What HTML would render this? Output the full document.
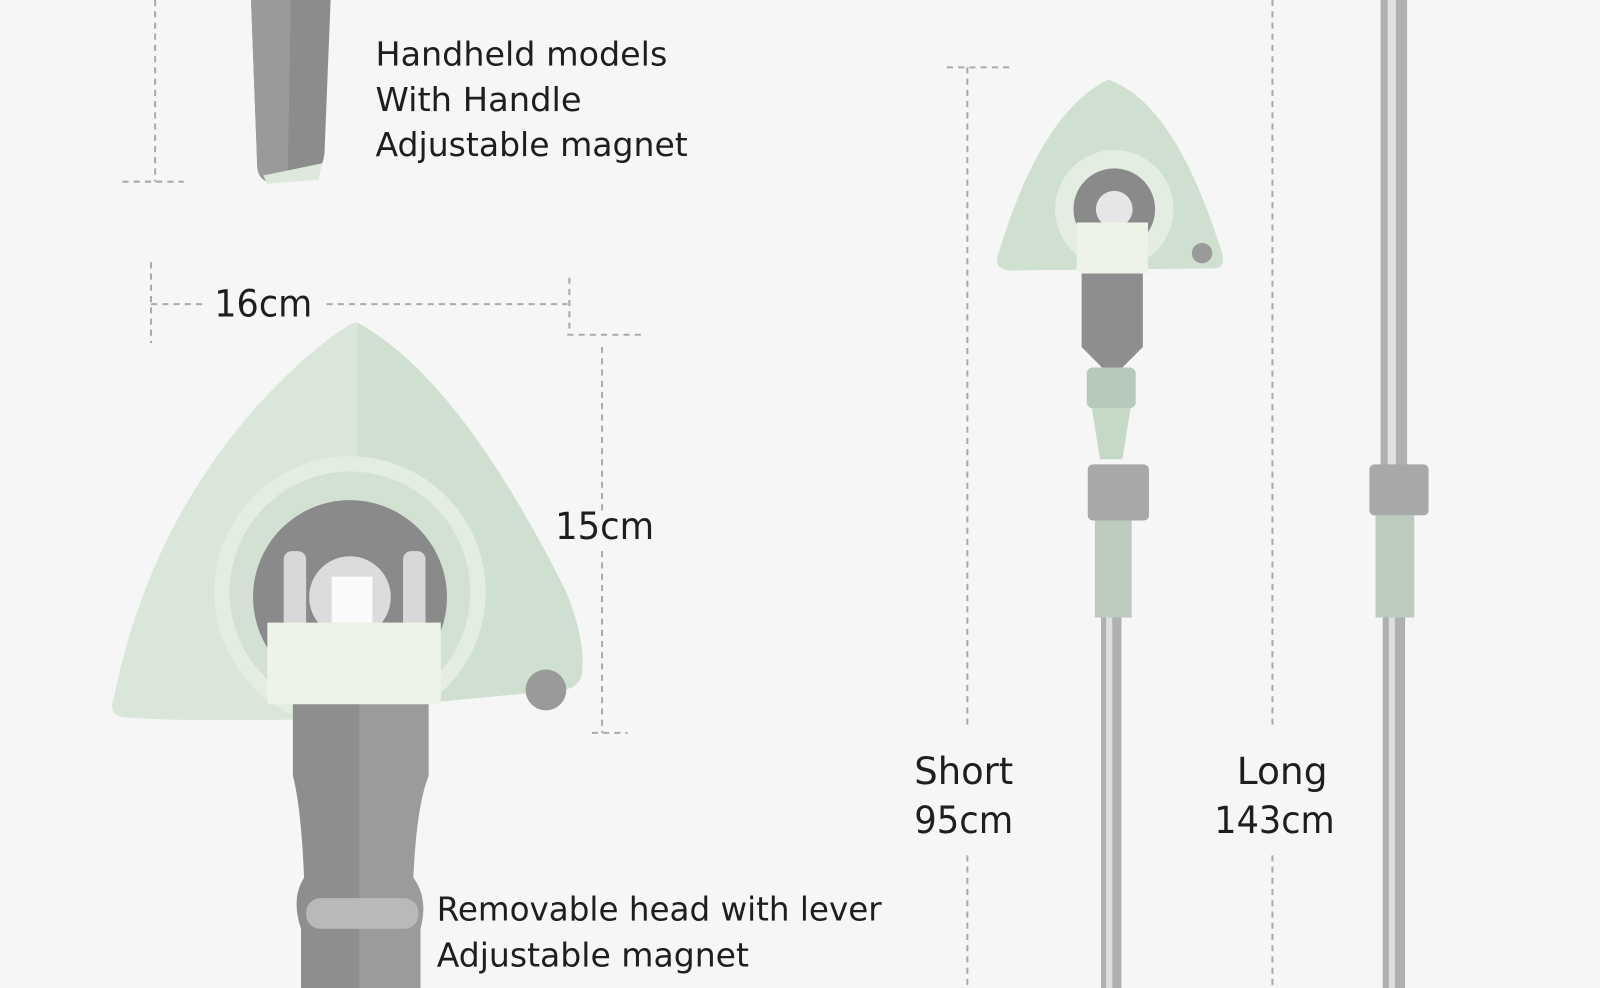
<!DOCTYPE html>
<html><head><meta charset="utf-8"><style>
html,body{margin:0;padding:0;background:#f6f6f6;}
svg{display:block;}
text{font-family:"DejaVu Sans","Liberation Sans",sans-serif;fill:#1e1e1e;}
</style></head><body>
<svg width="1600" height="988" viewBox="0 0 1568 968" preserveAspectRatio="none" xmlns="http://www.w3.org/2000/svg">
<rect width="1568" height="968" fill="#f6f6f6"/>
<g stroke="#aaa" stroke-width="2" stroke-dasharray="6,5" fill="none">
<path d="M152 0V178M120 178H180"/>
<path d="M148 257V336M148 298H200M320 298H556M558 272V328M556 328H632M590 340V500M590 540V718M580 718H615"/>
<path d="M928 66H994M948 66V710M948 838V968"/>
<path d="M1247 0V710M1247 838V968"/>
</g>
<!-- top handle -->
<path d="M246 0H324L318 150Q316 170 300 175L262 178Q252 175 252 160Z" fill="#8c8c8c"/>
<path d="M246 0H285L282 170L262 178Q252 175 252 160Z" fill="#9a9a9a"/>
<path d="M258 172L316 160L312 176L262 180Z" fill="#dfe8dc"/>
<!-- big head -->
<path d="M350 316Q450 370 555 580Q575 630 570 662Q566 675 550 676L300 700Q160 708 118 702Q106 698 112 682Q145 520 250 400Q300 345 340 320Q345 316 350 316Z" fill="#cfdfd0"/>
<path d="M350 316L350 704Q160 708 118 702Q106 698 112 682Q145 520 250 400Q300 345 340 320Q345 316 350 316Z" fill="#d9e6d9"/>
<circle cx="343" cy="580" r="133" fill="#e4ede2"/>
<circle cx="343" cy="580" r="118" fill="#d3e1d3"/>
<circle cx="343" cy="585" r="95" fill="#8a8a8a"/>
<circle cx="343" cy="585" r="40" fill="#dcdcdc"/>
<rect x="325" y="565" width="40" height="45" fill="#fafafa"/>
<rect x="278" y="540" width="22" height="80" rx="8" fill="#d8d8d8"/>
<rect x="395" y="540" width="22" height="80" rx="8" fill="#d8d8d8"/>
<circle cx="535" cy="676" r="20" fill="#9a9a9a"/>
<path d="M287 672H420V760Q408 790 405 860Q420 880 412 910L412 968H295L295 910Q285 880 298 860Q295 790 287 760Z" fill="#8e8e8e"/>
<path d="M352 672H420V760Q408 790 405 860Q420 880 412 910L412 968H352Z" fill="#9b9b9b"/>
<rect x="262" y="610" width="170" height="80" fill="#edf3e6"/>
<rect x="300" y="880" width="110" height="30" rx="14" fill="#b9b9b9"/>
<!-- small head -->
<path d="M1086 78Q1150 100 1195 240Q1204 262 1190 263L990 265Q974 264 978 250Q1020 110 1086 78Z" fill="#cfdfd0"/>
<circle cx="1092" cy="205" r="58" fill="#e4ede2"/>
<circle cx="1092" cy="205" r="40" fill="#8a8a8a"/>
<circle cx="1092" cy="205" r="18" fill="#e6e6e6"/>
<circle cx="1178" cy="248" r="10" fill="#9a9a9a"/>
<rect x="1055" y="218" width="70" height="50" fill="#edf3e6"/>
<path d="M1060 268H1120V340L1100 360H1080L1060 340Z" fill="#8e8e8e"/>
<rect x="1065" y="360" width="48" height="40" rx="6" fill="#b7c9b8"/>
<path d="M1070 400H1108L1100 450H1078Z" fill="#c6d8c6"/>
<rect x="1066" y="455" width="60" height="55" rx="5" fill="#a8a8a8"/>
<rect x="1073" y="510" width="36" height="95" fill="#bccbbd"/>
<rect x="1079" y="605" width="20" height="363" fill="#b0b0b0"/>
<rect x="1084" y="605" width="6" height="363" fill="#dedede"/>
<!-- long pole -->
<rect x="1353" y="0" width="26" height="460" fill="#b0b0b0"/>
<rect x="1360" y="0" width="8" height="460" fill="#e0e0e0"/>
<rect x="1342" y="455" width="58" height="50" rx="5" fill="#a8a8a8"/>
<rect x="1348" y="505" width="38" height="100" fill="#bccbbd"/>
<rect x="1355" y="605" width="22" height="363" fill="#b0b0b0"/>
<rect x="1361" y="605" width="6" height="363" fill="#dedede"/>
<!-- text -->
<g font-size="32">
<text x="368" y="64" textLength="286" lengthAdjust="spacingAndGlyphs">Handheld models</text>
<text x="368" y="109" textLength="202" lengthAdjust="spacingAndGlyphs">With Handle</text>
<text x="368" y="153" textLength="306" lengthAdjust="spacingAndGlyphs">Adjustable magnet</text>
<text x="428" y="902" textLength="436" lengthAdjust="spacingAndGlyphs">Removable head with lever</text>
<text x="428" y="947" textLength="306" lengthAdjust="spacingAndGlyphs">Adjustable magnet</text>
</g>
<g font-size="37">
<text x="210" y="310" textLength="96" lengthAdjust="spacingAndGlyphs">16cm</text>
<text x="544" y="528" textLength="97" lengthAdjust="spacingAndGlyphs">15cm</text>
<text x="896" y="768" textLength="97" lengthAdjust="spacingAndGlyphs">Short</text>
<text x="896" y="816" textLength="97" lengthAdjust="spacingAndGlyphs">95cm</text>
<text x="1212" y="768" textLength="89" lengthAdjust="spacingAndGlyphs">Long</text>
<text x="1190" y="816" textLength="118" lengthAdjust="spacingAndGlyphs">143cm</text>
</g>
</svg>
</body></html>
